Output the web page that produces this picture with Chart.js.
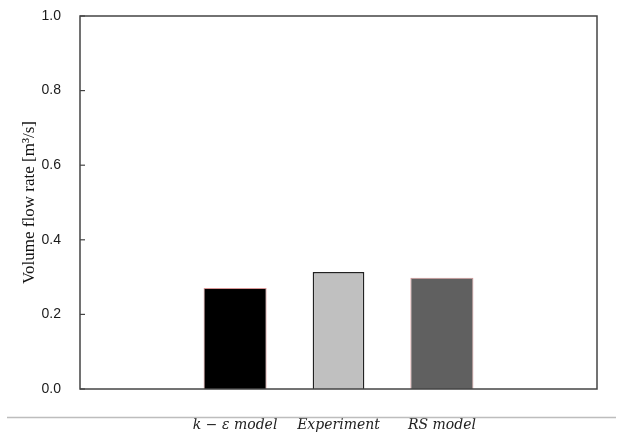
<!DOCTYPE html>
<html>
<head>
<meta charset="utf-8">
<script src="https://cdn.jsdelivr.net/npm/chart.js@4.4.0/dist/chart.umd.min.js"></script>
<style>
  html, body { margin: 0; padding: 0; background: #fff; }
  #wrap { width: 617px; height: 432px; position: relative; }
</style>
</head>
<body>
<div id="wrap"><canvas id="flow-chart"></canvas></div>
<script>
// categories: empty slots at both ends, like the original plot
const categories = ['', 'k \u2212 \u03b5 model', 'Experiment', 'RS model', ''];
const flowRates = [0.271, 0.314, 0.298];   // k-eps, experiment, RS
const yTicks = [0, 0.2, 0.4, 0.6, 0.8, 1.0];

const barFill = ['#000000', '#c0c0c0', '#606060'];
const barEdge = ['rgba(190, 80, 80, 0.6)', '#222222', 'rgba(190, 80, 80, 0.6)'];
const barWidthPct = [0.61, 0.5, 0.61];

// one dataset per bar so each can get its own width
const datasets = flowRates.map((v, i) => ({
  label: categories[i + 1],
  data: categories.map((_, j) => (j === i + 1 ? v : null)),
  backgroundColor: barFill[i],
  borderColor: barEdge[i],
  borderWidth: i === 1 ? 1.5 : 1,
  barPercentage: barWidthPct[i],
  categoryPercentage: 1,
}));

// box around the plot, inward tick marks, and the page rule under it
const framePlugin = {
  id: 'frame',
  afterDraw(chart) {
    const { ctx, chartArea: a } = chart;
    const y = chart.scales.y;
    ctx.save();
    ctx.strokeStyle = '#444';
    ctx.lineWidth = 1.5;
    ctx.strokeRect(a.left, a.top, a.right - a.left, a.bottom - a.top);
    ctx.lineWidth = 1.2;
    yTicks.forEach(t => {
      const py = y.getPixelForValue(t);
      ctx.beginPath();
      ctx.moveTo(a.left, py);
      ctx.lineTo(a.left + 5, py);
      ctx.stroke();
    });
    ctx.strokeStyle = '#bdbdbd';
    ctx.lineWidth = 1.5;
    ctx.beginPath();
    ctx.moveTo(7, 417.5);
    ctx.lineTo(616, 417.5);
    ctx.stroke();
    ctx.restore();
  }
};

new Chart(document.getElementById('flow-chart'), {
  type: 'bar',
  data: { labels: categories, datasets: datasets },
  options: {
    responsive: true,
    maintainAspectRatio: false,
    animation: false,
    datasets: { bar: { grouped: false } },
    layout: { padding: { left: 0, right: 20, top: 16, bottom: 0 } },
    plugins: { legend: { display: false }, tooltip: { enabled: false } },
    scales: {
      x: {
        grid: { display: false, drawTicks: false },
        border: { display: false },
        ticks: {
          padding: 28,
          color: '#222',
          font: { family: 'DejaVu Serif', style: 'italic', size: 14 }
        },
        afterFit: s => { s.height = 43; }
      },
      y: {
        min: 0,
        max: 1,
        grid: { display: false, drawTicks: false },
        border: { display: false },
        afterBuildTicks: s => { s.ticks = yTicks.map(v => ({ value: v })); },
        ticks: {
          padding: 19,
          color: '#1a1a1a',
          font: { family: 'Liberation Sans', size: 14 },
          callback: v => Number(v).toFixed(1)
        },
        title: {
          display: true,
          text: 'Volume flow rate [m\u00b3/s]',
          color: '#111',
          font: { family: 'Liberation Serif', size: 17 },
          padding: { top: 19, bottom: 0 }
        },
        afterFit: s => { s.width = 80; s.paddingTop = 0; s.paddingBottom = 0; }
      }
    }
  },
  plugins: [framePlugin]
});
</script>
</body>
</html>
